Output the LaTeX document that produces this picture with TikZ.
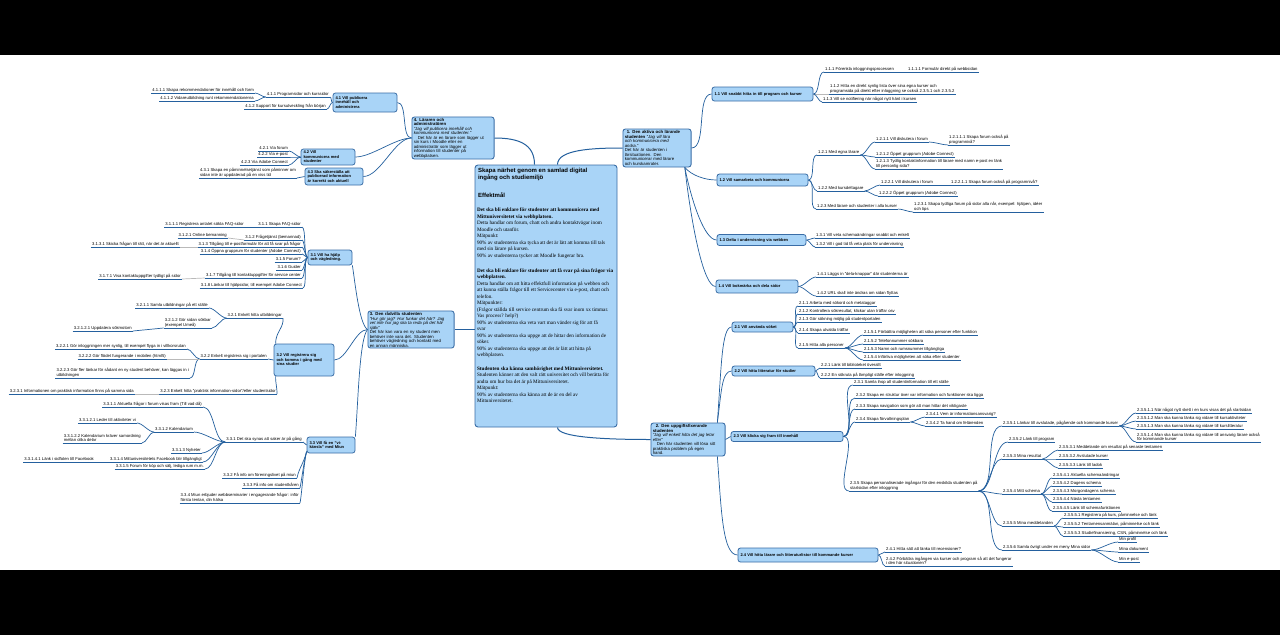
\documentclass[tikz,border=0pt]{standalone}
\usepackage{fontspec}
\setmainfont{Liberation Serif}
\setsansfont{Liberation Sans}
\usepackage{tikz}
\definecolor{topicfill}{HTML}{A9D4F7}
\definecolor{topicline}{HTML}{3A6DA6}
\definecolor{branch}{HTML}{24609E}
\newcommand{\leaffont}{\sffamily\fontsize{4.2}{4.6}\selectfont}
\newcommand{\topicfont}{\sffamily\bfseries\fontsize{4}{4.5}\selectfont}
\newcommand{\personafont}{\sffamily\fontsize{4.3}{4.5}\selectfont}
\newcommand{\goalfont}{\rmfamily\fontsize{5.2}{6.5}\selectfont}
\newcommand{\goaltitle}{\sffamily\bfseries\fontsize{6}{6}\selectfont}

\begin{document}
\begin{tikzpicture}[
  x=1pt, y=-1pt,
  font=\sffamily,
  goal/.style={rectangle, draw=topicline, fill=topicfill, rounded corners=3pt,
               line width=0.9pt, inner xsep=2pt, inner ysep=3pt},
  persona/.style={rectangle, draw=topicline, fill=topicfill, rounded corners=2.5pt,
                  line width=0.9pt, inner xsep=1.8pt, inner ysep=1pt, align=left, font=\personafont},
  topic/.style={rectangle, draw=topicline, fill=topicfill, rounded corners=2.5pt,
                line width=0.8pt, inner xsep=2.5pt, inner ysep=0.5pt, align=left, font=\topicfont},
  uline/.style={draw=branch, line width=0.7pt},
  leaf/.style={inner xsep=1pt, inner ysep=0.9pt, align=left, font=\leaffont,
               append after command={(\tikzlastnode.south west) edge[uline] (\tikzlastnode.south east)}},
  rleaf/.style={leaf, anchor=south west},
  lleaf/.style={leaf, anchor=south east},
  conn/.style={draw=branch, line width=0.7pt, looseness=0.7},
  softconn/.style={draw=gray!55, line width=0.7pt},
  mainconn/.style={draw=branch, line width=1pt}
]
  % ── Canvas ──────────────────────────────────────────────────────────────────
  \fill[black] (0,0) rectangle (1280,635);
  \fill[white] (0,55) rectangle (1280,570);

  % ── Central topic ───────────────────────────────────────────────────────────
  \node[goal] (ctr) at (546,296) {\parbox[c][256pt][t]{138pt}{\raggedright
    {\goaltitle\hspace*{1pt}Skapa närhet genom en samlad digital\\ \hspace*{1pt}ingång och studiemiljö\par}
    \vspace{11pt}
    {\goaltitle\hspace*{1pt}Effektmål\par}
    \vspace{7.5pt}
    {\goalfont
    \textbf{Det ska bli enklare för studenter att kommunicera med}\\
    \textbf{Mittuniversitetet via webbplatsen.}\\
    Detta handlar om forum, chatt och andra kontaktvägar inom\\
    Moodle och utanför.\\
    Mätpunkt:\\
    90\% av studenterna ska tycka att det är lätt att komma till tals\\
    med sin lärare på kursen.\\
    90\% av studenterna tycker att Moodle fungerar bra.\par}
    \vspace{8.5pt}
    {\goalfont
    \mbox{\textbf{Det ska bli enklare för studenter att få svar på sina frågor via}}\\
    \textbf{webbplatsen.}\\
    Detta handlar om att hitta effektfull information på webben och\\
    \mbox{att kunna ställa frågor till ett Servicecenter via e-post, chatt och}\\
    telefon.\\
    Mätpunkter:\\
    \mbox{(Frågor ställda till service centrum ska få svar inom xx timmar.}\\
    Vas process? help?)\\
    90\% av studenterna ska veta vart man vänder sig för att få\\
    svar\\
    90\% av studenterna ska uppge att de hittar den information de\\
    söker.\\
    90\% av studenterna ska uppge att det är lätt att hitta på\\
    webbplatsen.\par}
    \vspace{6.8pt}
    {\goalfont
    \textbf{Studenten ska känna samhörighet med Mittuniversitetet.}\\
    Studenten känner att den valt rätt universitet och vill berätta för\\
    andra om hur bra det är på Mittuniversitetet.\\
    Mätpunkt:\\
    90\% av studenterna ska känna att de är en del av\\
    Mittuniversitetet.\par}}};

  % ── Personas ────────────────────────────────────────────────────────────────
  \node[persona, text width=64.5pt, minimum height=38pt] (n1) at (657,148) {%
    \textbf{\hspace*{2pt}1. Den aktiva och lärande}\\
    \textbf{studenten} \textit{"Jag vill lära}\\
    \textit{och kommunicera med}\\
    \textit{andra."}\\
    Det här är studenten i\\
    lärsituationen. Den\\
    kommunicerar med lärare\\
    och kurskamrater.};

  \node[persona, text width=70.5pt, minimum height=33pt] (n2) at (688,439.5) {%
    \textbf{\hspace*{3pt}2. Den uppgiftsfixerande}\\
    \textbf{studenten}\\
    \textit{"Jag vill enkelt hitta det jag letar}\\
    \textit{efter"}\\
    \hspace*{4pt}Den här studenten vill lösa sitt\\
    praktiska problem på egen\\
    hand.};

  \node[persona, text width=82.5pt, minimum height=37pt] (n3) at (411,329.5) {%
    \textbf{3. Den rådvilla studenten}\\
    \textit{"Hur gör jag? Hur funkar det här? Jag}\\
    \textit{vet inte hur jag ska ta reda på det här}\\
    \textit{själv"}\\
    Det här kan vara en ny student men\\
    behöver inte vara det. Studenten\\
    behöver vägledning och kontakt med\\
    en annan människa.};

  \node[persona, text width=78.5pt, minimum height=42pt] (n4) at (453,138) {%
    \textbf{4. Läraren och}\\
    \textbf{administratören}\\
    \textit{"Jag vill publicera innehåll och}\\
    \textit{kommunicera med studenter."}\\
    \hspace*{4pt}Det här är en lärare som lägger ut\\
    sin kurs i Moodle eller en\\
    administratör som lägger ut\\
    information till studenter på\\
    webbplatsen.};

  % ── Topics ──────────────────────────────────────────────────────────────────
  \node[topic, text width=96pt, minimum height=14pt] (n11) at (762.5,94) {1.1 Vill snabbt hitta in till program och kurser};
  \node[topic, text width=86pt, minimum height=12pt] (n12) at (762.5,180) {1.2 Vill samarbeta och kommunicera};
  \node[topic, text width=84pt, minimum height=11pt] (n13) at (761.5,240) {1.3 Delta i undervisning via webben};
  \node[topic, text width=77pt, minimum height=13pt] (n14) at (757,286.5) {1.4 Vill bokmärka och dela sidor};
  \node[topic, text width=56pt, minimum height=10pt] (n21) at (762.5,327) {2.1 Vill använda söket};
  \node[topic, text width=78pt, minimum height=10pt] (n22) at (773.5,371) {2.2 Vill hitta litteratur för studier};
  \node[topic, text width=107pt, minimum height=10pt] (n23) at (787,436.5) {2.3 Vill klicka sig fram till innehåll};
  \node[topic, text width=135pt, minimum height=14pt] (n24) at (808,555) {2.4 Vill hitta lärare och litteraturlistor till kommande kurser};
  \node[topic, text width=39pt, minimum height=15pt] (n31) at (330,257.5) {3.1 Vill ha hjälp\\och vägledning.};
  \node[topic, text width=55pt, minimum height=32pt] (n32) at (304,360) {3.2 Vill registrera sig\\och komma i gång med\\sina studier};
  \node[topic, text width=43pt, minimum height=16pt] (n33) at (331,445) {3.3 Vill få en "vi-\\känsla" med Miun};
  \node[topic, text width=59pt, minimum height=19pt] (n41) at (365,102.5) {4.1 Vill publicera\\innehåll och\\administrera};
  \node[topic, text width=49pt, minimum height=16pt] (n42) at (328,157) {4.2 Vill\\kommunicera med\\studenter};
  \node[topic, text width=53pt, minimum height=17pt] (n43) at (334,176.5) {4.3 Ska säkerställa att\\publicerad information\\är korrekt och aktuell};

  % ── Persona 1: leaves ───────────────────────────────────────────────────────
  \node[rleaf] (n111) at (824,72) {1.1.1 Förenkla inloggningsprocessen};
  \node[rleaf] (n1111) at (907,72) {1.1.1.1 Formulär direkt på webbsidan};
  \node[rleaf] (n112) at (829,94) {1.1.2 Hitta en direkt synlig lista över sina egna kurser och\\programsida på direkt efter inloggning se också 2.3.5.1 och 2.3.5.2};
  \node[rleaf] (n113) at (822,102) {1.1.3 Vill se notifiering när något nytt hänt i kursen};
  \node[rleaf] (n121) at (817,155) {1.2.1 Med egna lärare};
  \node[rleaf] (n1211) at (875,142) {1.2.1.1 Vill diskutera i forum};
  \node[rleaf] (n12111) at (948,145) {1.2.1.1.1 Skapa forum också på\\programnivå?};
  \node[rleaf] (n1212) at (875,157) {1.2.1.2 Öppet grupprum (Adobe Connect)};
  \node[rleaf] (n1213) at (875,169) {1.2.1.3 Tydlig kontaktinformation till lärare med namn e-post ev länk\\till personlig sida?};
  \node[rleaf] (n122) at (817,191) {1.2.2 Med kursdeltagare};
  \node[rleaf] (n1221) at (880,185) {1.2.2.1 Vill diskutera i forum};
  \node[rleaf] (n12211) at (950,185) {1.2.2.1.1 Skapa forum också på programnivå?};
  \node[rleaf] (n1222) at (878,196) {1.2.2.2 Öppet grupprum (Adobe Connect)};
  \node[rleaf] (n123) at (816,209) {1.2.3 Med lärare och studenter i alla kurser};
  \node[rleaf] (n1231) at (913,212) {1.2.3.1 Skapa tydliga forum på sidor alla når, exempel: hjälpen, idéer\\och tips};
  \node[rleaf] (n131) at (815,238) {1.3.1 Vill veta schemaändringar snabbt och enkelt};
  \node[rleaf] (n132) at (815,247) {1.3.2 Vill i god tid få veta plats för undervisning};
  \node[rleaf] (n141) at (816,277) {1.4.1 Läggs in "dela-knappar" där studenterna är};
  \node[rleaf] (n142) at (816,296) {1.4.2 URL skall inte ändras om sidan flyttas};

  % ── Persona 2: leaves ───────────────────────────────────────────────────────
  \node[rleaf] (n211) at (798,306) {2.1.1 Arbeta med sökord och metataggar};
  \node[rleaf] (n212) at (798,314) {2.1.2 Kontrollera sökresultat, klickar utan träffar osv};
  \node[rleaf] (n213) at (798,322) {2.1.3 Gör sökning möjlig på studentportalen};
  \node[rleaf] (n214) at (798,333) {2.1.4 Skapa utvalda träffar};
  \node[rleaf] (n215) at (798,348) {2.1.5 Hitta alla personer};
  \node[rleaf] (n2151) at (863,335) {2.1.5.1 Förbättra möjligheten att söka personer efter funktion};
  \node[rleaf] (n2152) at (863,344) {2.1.5.2 Telefonnummer sökbara};
  \node[rleaf] (n2153) at (863,352) {2.1.5.3 Namn och rumsnummer tillgängliga};
  \node[rleaf] (n2154) at (863,360) {2.1.5.4 Införliva möjligheten att söka efter studenter};
  \node[rleaf] (n221) at (820,368) {2.2.1 Länk till biblioteket överallt};
  \node[rleaf] (n222) at (820,378) {2.2.2 En sökruta på lämpligt ställe efter inloggning};
  \node[rleaf] (n231) at (853,385) {2.3.1 Samla ihop all studentinformation till ett ställe};
  \node[rleaf] (n232) at (855,398) {2.3.2 Skapa en struktur över var information och funktioner ska ligga};
  \node[rleaf] (n233) at (855,409) {2.3.3 Skapa navigation som gör att man hittar det viktigaste};
  \node[rleaf] (n234) at (855,422) {2.3.4 Skapa förvaltningsplan};
  \node[rleaf] (n2341) at (925,417) {2.3.4.1 Vem är informationsansvarig?};
  \node[rleaf] (n2342) at (925,426) {2.3.4.2 Ta hand om felärenden};
  \node[rleaf] (n235) at (849,491) {2.3.5 Skapa personaliserade ingångar för den enskilda studenten på\\startsidan efter inloggning};
  \node[rleaf] (n2351) at (1002,426) {2.3.5.1 Länkar till avslutade, pågående och kommande kurser};
  \node[rleaf] (n23511) at (1136,413) {2.3.5.1.1 När något nytt skett i en kurs visas det på startsidan};
  \node[rleaf] (n23512) at (1136,421) {2.3.5.1.2 Man ska kunna länka sig vidare till kursaktiviteter};
  \node[rleaf] (n23513) at (1136,429) {2.3.5.1.3 Man ska kunna länka sig vidare till kurslitteratur};
  \node[rleaf] (n23514) at (1136,442) {2.3.5.1.4 Man ska kunna länka sig vidare till ansvarig lärare också\\för kommande kurser};
  \node[rleaf] (n2352) at (1008,442) {2.3.5.2 Länk till program};
  \node[rleaf] (n2353) at (1002,459) {2.3.5.3 Mina resultat};
  \node[rleaf] (n23531) at (1058,450) {2.3.5.3.1 Meddelande om resultat på senaste tentamen};
  \node[rleaf] (n23532) at (1058,459) {2.3.5.3.2 Avslutade kurser};
  \node[rleaf] (n23533) at (1058,468) {2.3.5.3.3 Länk till ladok};
  \node[rleaf] (n2354) at (1002,494) {2.3.5.4 Mitt schema};
  \node[rleaf] (n23541) at (1052,478) {2.3.5.4.1 Aktuella schemaändringar};
  \node[rleaf] (n23542) at (1052,486) {2.3.5.4.2 Dagens schema};
  \node[rleaf] (n23543) at (1052,494) {2.3.5.4.3 Morgondagens schema};
  \node[rleaf] (n23544) at (1052,502) {2.3.5.4.4 Nästa tentamen};
  \node[rleaf] (n23545) at (1052,511) {2.3.5.4.5 Länk till schemafunktionen};
  \node[rleaf] (n2355) at (1002,526) {2.3.5.5 Mina meddelanden};
  \node[rleaf] (n23551) at (1063,518) {2.3.5.5.1 Registrera på kurs, påminnelse och länk};
  \node[rleaf] (n23552) at (1063,527) {2.3.5.5.2 Tentamensanmälan, påminnelse och länk};
  \node[rleaf] (n23553) at (1063,536) {2.3.5.5.3 Studiefinansiering, CSN, påminnelse och länk};
  \node[rleaf] (n2356) at (1002,550) {2.3.5.6 Samla övrigt under en meny Mina sidor};
  \node[rleaf] (n23561) at (1118,542) {Min profil};
  \node[rleaf] (n23562) at (1118,552) {Mina dokument};
  \node[rleaf] (n23563) at (1118,562) {Min e-post};
  \node[rleaf] (n241) at (885,552) {2.4.1 Hitta sätt att länka till recensioner?};
  \node[rleaf] (n242) at (885,566) {2.4.2 Förbättra ingången via kurser och program så att det fungerar\\i den här situationen?};

  % ── Persona 3: leaves ───────────────────────────────────────────────────────
  \node[lleaf] (n311) at (302,227) {3.1.1 Skapa FAQ-sidor};
  \node[lleaf] (n3111) at (245,227) {3.1.1.1 Registrera antalet sökta FAQ-sidor};
  \node[lleaf] (n312) at (302,240) {3.1.2 Frågetjänst (bemannad)};
  \node[lleaf] (n3121) at (228,238) {3.1.2.1 Online bemanning};
  \node[lleaf] (n313) at (302,247) {3.1.3 Tillgång till e-postformulär för att få svar på frågor};
  \node[lleaf] (n3131) at (180,247) {3.1.3.1 Skicka frågan till rätt, när det är aktuellt};
  \node[lleaf] (n314) at (302,254) {3.1.4 Öppna grupprum för studenter (Adobe Connect)};
  \node[lleaf] (n315) at (302,262) {3.1.5 Forum?};
  \node[lleaf] (n316) at (302,270) {3.1.6 Guider};
  \node[lleaf] (n317) at (302,278) {3.1.7 Tillgång till kontaktuppgifter för service center};
  \node[lleaf] (n3171) at (182,279) {3.1.7.1 Visa kontaktuppgifter tydligt på sidor};
  \node[lleaf] (n318) at (303,288) {3.1.8 Länkar till hjälpsidor, till exempel Adobe Connect};
  \node[lleaf] (n321) at (283,318) {3.2.1 Enkelt hitta utbildningar};
  \node[lleaf] (n3211) at (209,308) {3.2.1.1 Samla utbildningar på ett ställe};
  \node[lleaf] (n3212) at (212,328) {3.2.1.2 Gör sidan sökbar\\(exempel Umeå)};
  \node[lleaf] (n32121) at (133,331) {3.2.1.2.1 Uppdatera sökmotorn};
  \node[lleaf] (n322) at (268,359) {3.2.2 Enkelt registrera sig i portalen};
  \node[lleaf] (n3221) at (187,349) {3.2.2.1 Gör inloggningen mer synlig, till exempel flyga in i villkorsrutan};
  \node[lleaf] (n3222) at (167,359) {3.2.2.2 Gör flödet fungerande i mobilen (html5)};
  \node[lleaf] (n3223) at (190,378) {3.2.2.3 Gör fler länkar för sådant en ny student behöver, kan läggas in i\\utbildningen};
  \node[lleaf] (n323) at (277,394) {3.2.3 Enkelt hitta "praktisk information-sidor"/eller studentsidor};
  \node[lleaf] (n3231) at (135,394) {3.2.3.1 Informationen om praktisk information finns på samma sida};
  \node[lleaf] (n331) at (303,442) {3.3.1 Det ska synas att saker är på gång};
  \node[lleaf] (n3311) at (203,407) {3.3.1.1 Aktuella frågor i forum visas fram (Till vad då)};
  \node[lleaf] (n3312) at (194,432) {3.3.1.2 Kalendarium};
  \node[lleaf] (n33121) at (137,423) {3.3.1.2.1 Leder till aktiviteter vi};
  \node[lleaf] (n33122) at (142,443) {3.3.1.2.2 Kalendarium kräver samordning\\mellan olika delar};
  \node[lleaf] (n3313) at (202,453) {3.3.1.3 Nyheter};
  \node[lleaf] (n3314) at (203,462) {3.3.1.4 Mittuniversitetets Facebook blir tillgängligt};
  \node[lleaf] (n33141) at (95,462) {3.3.1.4.1 Länk i sidfoten till Facebook};
  \node[lleaf] (n3315) at (205,469) {3.3.1.5 Forum för köp och sälj, lediga rum m.m.};
  \node[lleaf] (n332) at (297,478) {3.3.2 Få info om föreningslivet på miun};
  \node[lleaf] (n333) at (300,488) {3.3.3 Få info om studentkåren};
  \node[lleaf] (n334) at (300,503) {3.3.4 Miun erbjuder webbseminarier i engagerande frågor: inför\\första tentan, din hälsa};

  % ── Persona 4: leaves ───────────────────────────────────────────────────────
  \node[lleaf] (n411) at (330,97) {4.1.1 Programsidor och kurssidor};
  \node[lleaf] (n4111) at (255,93) {4.1.1.1 Skapa rekommendationer för innehåll och form};
  \node[lleaf] (n4112) at (255,101) {4.1.1.2 Vidareutbildning runt rekommendationerna};
  \node[lleaf] (n412) at (327,109) {4.1.2 Support för kursutveckling från början};
  \node[lleaf] (n421) at (289,151) {4.2.1 Via forum};
  \node[lleaf] (n422) at (289,157) {4.2.2 Via e-post};
  \node[lleaf] (n423) at (289,165) {4.2.3 Via Adobe Connect};
  \node[lleaf] (n431) at (297,178) {4.3.1 Skapa en påminnelsetjänst som påminner om\\sidan inte är uppdaterad på en viss tid};

  % ── Connectors: centre to personas ──────────────────────────────────────────
  \draw[mainconn] (ctr.95) .. controls +(0,-20) and +(25,0) .. (n4.east);
  \draw[mainconn] (ctr.85) .. controls +(0,-15) and +(-30,0) .. (n1.west);
  \draw[mainconn] (ctr.west |- n3.east) -- (n3.east);
  \draw[mainconn] (ctr.-85) .. controls +(0,10) and +(-45,0) .. (n2.west);

  % ── Connectors: personas to topics ──────────────────────────────────────────
  \draw[conn] (n1.east) to[out=0,in=180] (n11.west);
  \foreach \t/\dy in {12/8, 13/35, 14/60}
    \draw[conn] (n1.-35) .. controls +(7,\dy) and +(-12,0) .. (n\t.west);
  \foreach \t/\dy in {21/-55, 22/-30}
    \draw[conn] (n2.30) .. controls +(4,\dy) and +(-10,0) .. (n\t.west);
  \draw[conn] (n2.east) to[out=0,in=180] (n23.west);
  \draw[conn] (n2.-30) .. controls +(4,55) and +(-15,0) .. (n24.west);
  \draw[conn] (n3.west) .. controls +(-8,-5) and +(3,20) .. (n31.south east);
  \draw[conn] (n3.west) to[out=180,in=0] (n32.east);
  \draw[conn] (n3.west) .. controls +(-8,10) and +(3,-40) .. (n33.north east);
  \foreach \t in {41,42,43}
    \draw[conn] (n4.west) to[out=180,in=0] (n\t.east);

  % ── Connectors: right side ──────────────────────────────────────────────────
  \draw[softconn] (n11.east) -- (n112.south west);
  \foreach \c in {111,113} \draw[conn] (n11.east) to[out=0,in=180] (n\c.south west);
  \draw[conn] (n111.south east) -- (n1111.south west);
  \foreach \c in {121,122,123} \draw[conn] (n12.east) to[out=0,in=180] (n\c.south west);
  \foreach \c in {1211,1212,1213} \draw[conn] (n121.south east) to[out=0,in=180] (n\c.south west);
  \draw[conn] (n1211.south east) to[out=0,in=180] (n12111.south west);
  \foreach \c in {1221,1222} \draw[conn] (n122.south east) to[out=0,in=180] (n\c.south west);
  \draw[conn] (n1221.south east) -- (n12211.south west);
  \draw[conn] (n123.south east) to[out=0,in=180] (n1231.south west);
  \foreach \c in {131,132} \draw[conn] (n13.east) to[out=0,in=180] (n\c.south west);
  \foreach \c in {141,142} \draw[conn] (n14.east) to[out=0,in=180] (n\c.south west);
  \foreach \c in {211,212,213,214,215} \draw[conn] (n21.east) to[out=0,in=180] (n\c.south west);
  \foreach \c in {2151,2152,2153,2154} \draw[conn] (n215.south east) to[out=0,in=180] (n\c.south west);
  \foreach \c in {221,222} \draw[conn] (n22.east) to[out=0,in=180] (n\c.south west);
  \foreach \c in {231,232,233,234,235} \draw[conn] (n23.east) to[out=0,in=180] (n\c.south west);
  \foreach \c in {2341,2342} \draw[conn] (n234.south east) to[out=0,in=180] (n\c.south west);
  \foreach \c in {2351,2352,2353,2354,2355,2356} \draw[conn] (n235.south east) to[out=0,in=180] (n\c.south west);
  \foreach \c in {23511,23512,23513,23514} \draw[conn] (n2351.south east) to[out=0,in=180] (n\c.south west);
  \foreach \c in {23531,23532,23533} \draw[conn] (n2353.south east) to[out=0,in=180] (n\c.south west);
  \foreach \c in {23541,23542,23543,23544,23545} \draw[conn] (n2354.south east) to[out=0,in=180] (n\c.south west);
  \foreach \c in {23551,23552,23553} \draw[conn] (n2355.south east) to[out=0,in=180] (n\c.south west);
  \foreach \c in {23561,23562,23563} \draw[conn] (n2356.south east) to[out=0,in=180] (n\c.south west);
  \foreach \c in {241,242} \draw[conn] (n24.east) to[out=0,in=180] (n\c.south west);

  % ── Connectors: left side ───────────────────────────────────────────────────
  \foreach \c in {411,412} \draw[conn] (n41.west) to[out=180,in=0] (n\c.south east);
  \foreach \c in {4111,4112} \draw[conn] (n411.south west) to[out=180,in=0] (n\c.south east);
  \foreach \c in {421,422,423} \draw[conn] (n42.west) to[out=180,in=0] (n\c.south east);
  \draw[conn] (n43.west) to[out=180,in=0] (n431.south east);
  \foreach \c in {311,312,313,314,315,316,317,318} \draw[conn] (n31.west) to[out=180,in=0,looseness=0.35] (n\c.south east);
  \draw[conn] (n311.south west) -- (n3111.south east);
  \draw[softconn] (n312.south west) -- (n3121.south east);
  \draw[softconn] (n313.south west) -- (n3131.south east);
  \draw[softconn] (n317.south west) -- (n3171.south east);
  \draw[conn] (n32.150) .. controls +(0,-12) and +(1,10) .. (n321.south east);
  \foreach \c in {3211,3212} \draw[conn] (n321.south west) to[out=180,in=0] (n\c.south east);
  \draw[conn] (n3212.south west) -- (n32121.south east);
  \draw[conn] (n32.west) to[out=180,in=0] (n322.south east);
  \foreach \c in {3221,3223} \draw[conn] (n322.south west) to[out=180,in=0] (n\c.south east);
  \draw[softconn] (n322.south west) -- (n3222.south east);
  \draw[conn] (n32.-150) .. controls +(0,8) and +(0,-8) .. (n323.south east);
  \draw[softconn] (n323.south west) -- (n3231.south east);
  \draw[conn] (n33.west) to[out=180,in=0] (n331.south east);
  \foreach \c in {332,333,334} \draw[conn] (n33.-165) .. controls +(-3,12) and +(2,-10) .. (n\c.south east);
  \foreach \c in {3311,3312,3313,3314,3315} \draw[conn] (n331.south west) to[out=180,in=0] (n\c.south east);
  \foreach \c in {33121,33122} \draw[conn] (n3312.south west) to[out=180,in=0] (n\c.south east);
  \draw[conn] (n3314.south west) -- (n33141.south east);
\end{tikzpicture}
\end{document}
